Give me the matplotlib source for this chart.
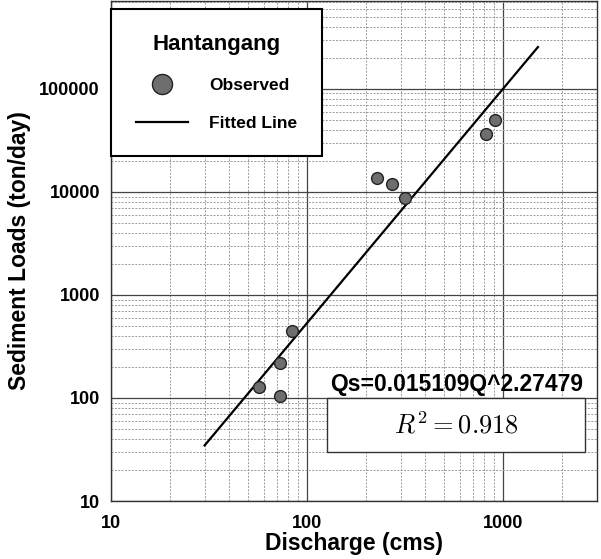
import matplotlib
matplotlib.use("Agg")
import matplotlib.pyplot as plt
from matplotlib.patches import Rectangle

plt.rcParams['font.family'] = ['Liberation Sans', 'DejaVu Sans']
plt.rcParams['mathtext.fontset'] = 'cm'

# observed discharge (cms) vs sediment load (ton/day)
q_obs = [57, 73, 73, 84, 228, 269, 316, 817, 911]
qs_obs = [127, 104, 217, 450, 13600, 12000, 8800, 36600, 49200]

# fitted rating curve end points
q_fit = [30, 1500]
qs_fit = [34.6, 253800]

eq_text = "Qs=0.015109Q^2.27479"
r2_text = r"$R^2 = 0.918$"
station = "Hantangang"

W, H = 601, 559
fig = plt.figure(figsize=(W / 100, H / 100), dpi=100)
ax = fig.add_axes([111 / W, (H - 501) / H, (597 - 111) / W, 500 / H])

ax.plot(q_fit, qs_fit, color='black', lw=1.6, label='Fitted Line', zorder=3)
ax.plot(q_obs, qs_obs, 'o', ms=8.5, mfc='#6e6e6e', mec='#222222', mew=1.0,
        label='Observed', zorder=4)

ax.set_xscale('log')
ax.set_yscale('log')
ax.set_xlim(10, 3000)
ax.set_ylim(10, 7.1e5)
ax.set_yticks([10, 100, 1000, 10000, 100000])
ax.set_yticklabels(['10', '100', '1000', '10000', '100000'])
ax.set_xticks([10, 100, 1000])
ax.set_xticklabels(['10', '100', '1000'])

ax.grid(True, which='major', color='#444444', lw=0.9, ls='-')
ax.grid(True, which='minor', color='#9a9a9a', lw=0.7, ls=(0, (2, 1.5)))
ax.set_axisbelow(True)
ax.tick_params(which='both', length=0)
ax.tick_params(axis='y', pad=8, labelsize=13)
ax.tick_params(axis='x', pad=10, labelsize=13)
for lab in ax.get_xticklabels() + ax.get_yticklabels():
    lab.set_fontweight('bold')
for sp in ax.spines.values():
    sp.set_color('#333333')
    sp.set_linewidth(1.0)

ax.set_xlabel('Discharge (cms)', fontsize=16.5, fontweight='bold', labelpad=0)
ax.set_ylabel('Sediment Loads (ton/day)', fontsize=16.5, fontweight='bold', labelpad=6)

handles, labels = ax.get_legend_handles_labels()
leg = ax.legend(handles[::-1], labels[::-1], loc='upper left',
                bbox_to_anchor=(111 / W, (H - 9) / H), bbox_transform=fig.transFigure,
                borderaxespad=0, frameon=True, fancybox=False, framealpha=1,
                edgecolor='black', title=station,
                title_fontproperties={'weight': 'bold', 'size': 16},
                prop={'weight': 'bold', 'size': 12.5},
                handlelength=3.0, handletextpad=1.2, borderpad=1.45,
                labelspacing=1.3, markerscale=1.7)
leg.get_frame().set_linewidth(1.5)
leg.set_zorder(10)

rect = Rectangle((327 / W, (H - 452) / H), 258 / W, 54 / H, transform=fig.transFigure,
                 facecolor='white', edgecolor='#333333', lw=1.0, zorder=8, clip_on=False)
ax.add_patch(rect)
ax.text(456 / W, (H - 425) / H, r2_text, transform=fig.transFigure, fontsize=19,
        ha='center', va='center', zorder=9)
ax.text(457 / W, (H - 385) / H, eq_text, transform=fig.transFigure, fontsize=16.5,
        fontweight='bold', ha='center', va='center', zorder=9)

fig.savefig('out.png', dpi=100)
